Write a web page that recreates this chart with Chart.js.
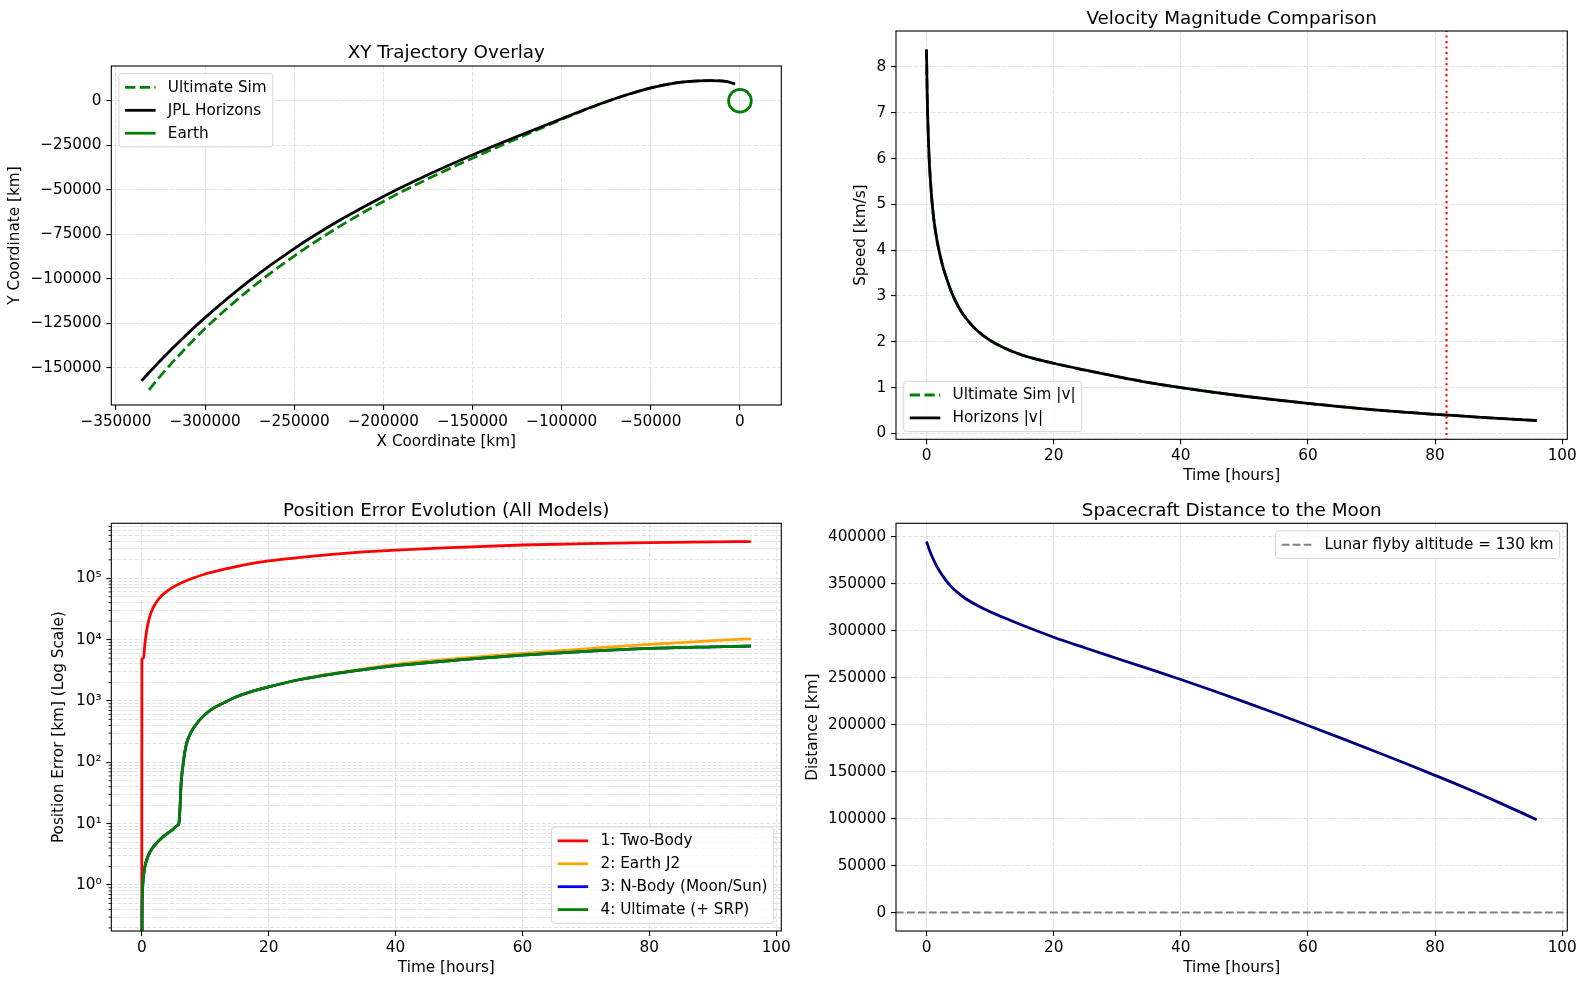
<!DOCTYPE html>
<html><head><meta charset="utf-8">
<script src="https://cdn.jsdelivr.net/npm/chart.js@4.4.1/dist/chart.umd.min.js"></script>
<style>
html,body{margin:0;padding:0;background:#fff;}
#wrap{position:relative;width:1586px;height:986px;background:#fff;}
canvas{position:absolute;left:0;top:0;}
</style></head><body>
<div id="wrap">
<canvas id="c1" width="1586" height="986"></canvas>
<canvas id="c2" width="1586" height="986"></canvas>
<canvas id="c3" width="1586" height="986"></canvas>
<canvas id="c4" width="1586" height="986"></canvas>
</div>
<script>
// ---------------- Panel 1: XY trajectory (km) ----------------
const jplX = [-335700, -325000, -312500, -300000, -275000, -250000, -225000, -200000, -175000, -150000, -125000, -100000, -87500, -75000, -62500, -50000, -40000, -30000, -16400, -8000, -2800];
const jplY = [-157400, -146000, -133500, -121900, -101100, -83100, -67500, -53800, -41600, -30500, -20150, -10100, -5200, -600, 3600, 7200, 9350, 10700, 11280, 10900, 9400];
const simX = [-331450, -325000, -312500, -300000, -275000, -250000, -225000, -200000, -175000, -150000, -125000, -100000, -87500, -75000, -62500, -50000, -40000, -30000, -16400, -8000, -2800];
const simY = [-162540, -154600, -140800, -128000, -106000, -87300, -70900, -56600, -43900, -32300, -21300, -10550, -5300, -600, 3600, 7200, 9350, 10700, 11280, 10900, 9400];
const earthX = [0];
const earthY = [0];
const earthRadiusKm = 6371;
const xyTicksX = [-350000, -300000, -250000, -200000, -150000, -100000, -50000, 0];
const xyTicksY = [-150000, -125000, -100000, -75000, -50000, -25000, 0];

// ---------------- Panel 2: speed (km/s) vs time (h) ----------------
const velT   = [0, 0.1, 0.2, 0.4, 0.6, 0.9, 1.2, 1.6, 2.0, 2.5, 3, 4, 5, 6, 7, 8, 10, 12, 15, 20, 25, 30, 35, 40, 45, 50, 55, 60, 65, 70, 75, 80, 85, 90, 96];
const velSim = [8.38, 7.45, 6.85, 6.05, 5.55, 5.0, 4.62, 4.25, 3.97, 3.68, 3.45, 3.06, 2.77, 2.55, 2.38, 2.24, 2.03, 1.88, 1.71, 1.53, 1.38, 1.24, 1.11, 1.0, 0.9, 0.81, 0.73, 0.655, 0.585, 0.52, 0.465, 0.415, 0.37, 0.325, 0.285];
const velHor = [8.38, 7.45, 6.85, 6.05, 5.55, 5.0, 4.62, 4.25, 3.97, 3.68, 3.45, 3.06, 2.77, 2.55, 2.38, 2.24, 2.03, 1.88, 1.71, 1.53, 1.38, 1.24, 1.11, 1.0, 0.9, 0.81, 0.73, 0.655, 0.585, 0.52, 0.465, 0.415, 0.37, 0.325, 0.28];
const markT = [81.8, 81.8];
const markV = [-1, 10];
const velTicksY = [0, 1, 2, 3, 4, 5, 6, 7, 8];
const timeTicks = [0, 20, 40, 60, 80, 100];

// ---------------- Panel 3: position error (km, log) ----------------
const errTimeTwoBody = [0, 0.02, 0.3, 0.45, 0.6, 0.8, 1.0, 1.25, 1.5, 2.0, 2.87, 4, 5, 6.55, 8, 10, 13, 16, 20, 25, 30, 35, 40, 50, 60, 70, 80, 90, 96];
const errTwoBody = [0.01, 4800, 5000, 7600, 10500, 14500, 18600, 23400, 28200, 36300, 49000, 61700, 72400, 87100, 100000, 117500, 141000, 164000, 192000, 219000, 245000, 269000, 289000, 320000, 349000, 367000, 381000, 392000, 396000];
const errTime     = [0, 0.05, 0.12, 0.25, 0.5, 0.8, 1.2, 1.6, 2.4, 3.2, 4, 4.8, 5.6, 5.85, 6.0, 6.2, 6.5, 6.8, 7.1, 7.7, 8.3, 9.5, 11, 13, 15, 17.5, 20, 25, 30, 35, 40, 50, 60, 70, 80, 90, 96];
const errJ2       = [0.01, 0.32, 0.8, 1.3, 2.0, 2.6, 3.3, 3.9, 4.9, 5.9, 6.9, 7.9, 9.3, 10, 16, 45, 90, 150, 210, 300, 380, 540, 730, 940, 1180, 1450, 1700, 2240, 2780, 3330, 3950, 4950, 5950, 7100, 8400, 9600, 10300];
const errNBody    = [0.01, 0.32, 0.8, 1.3, 2.0, 2.6, 3.3, 3.9, 4.9, 5.9, 6.9, 7.9, 9.3, 10, 16, 45, 90, 150, 210, 300, 380, 540, 730, 940, 1180, 1450, 1700, 2240, 2750, 3250, 3760, 4660, 5580, 6430, 7180, 7620, 7850];
const errUltimate = [0.01, 0.32, 0.8, 1.3, 2.0, 2.6, 3.3, 3.9, 4.9, 5.9, 6.9, 7.9, 9.3, 10, 16, 45, 90, 150, 210, 300, 380, 540, 730, 940, 1180, 1450, 1700, 2240, 2750, 3250, 3770, 4670, 5600, 6450, 7200, 7650, 7880];
const errDecades = [0.1, 1, 10, 100, 1000, 10000, 100000];

// ---------------- Panel 4: distance to Moon (km) ----------------
const distT    = [0, 0.5, 1, 1.6, 2.5, 3.2, 4, 5, 6, 8, 10, 12, 15, 20, 25, 30, 35, 40, 45, 50, 55, 60, 65, 70, 75, 80, 85, 90, 96];
const distMoon = [394800, 385000, 377000, 368500, 358800, 352200, 346200, 339900, 334700, 326700, 320000, 314300, 305900, 293000, 281500, 270350, 259250, 248000, 236250, 224200, 211850, 199100, 186200, 173050, 159650, 146000, 132000, 117250, 98850];
const flybyT = [-10, 110];
const flybyAlt = [130, 130];
const distTicksY = [0, 50000, 100000, 150000, 200000, 250000, 300000, 350000, 400000];

// ---------------- styling helpers ----------------
const FS = 15.28, TS = 18.33;
const GRID = '#e2e2e2';
Chart.defaults.font.family = '"DejaVu Sans", sans-serif';
Chart.defaults.color = '#000';

const pts = (xs, ys) => xs.map((x, i) => ({x, y: ys[i]}));
const fmt = v => (v < 0 ? '\u2212' + Math.abs(v) : String(v));
const SUP = {'-':'\u207B','0':'\u2070','1':'\u00B9','2':'\u00B2','3':'\u00B3','4':'\u2074','5':'\u2075','6':'\u2076','7':'\u2077','8':'\u2078','9':'\u2079'};
const isPow10 = v => Math.abs(Math.log10(v) - Math.round(Math.log10(v))) < 1e-9;
const logLabel = v => isPow10(v) ? '10' + String(Math.round(Math.log10(v))).split('').map(c => SUP[c]).join('') : '';

function scale(o) {
  const horiz = o.pos === 'bottom';
  return {
    type: o.type || 'linear', position: o.pos, min: o.min, max: o.max,
    afterBuildTicks: s => { s.ticks = o.ticks.map(v => ({value: v})); },
    afterFit: s => { if (horiz) s.height = o.size; else s.width = o.size; },
    grid: {color: GRID, lineWidth: 1.1, drawTicks: true, tickLength: 4.9,
           tickColor: o.tickColor || '#000', tickWidth: 1.1},
    border: {display: false, dash: [4.1, 1.8]},
    ticks: {autoSkip: false, maxRotation: 0, minRotation: 0, padding: horiz ? 3 : 4.9,
            color: '#000', font: {size: FS}, callback: v => (o.label || fmt)(v)},
    title: {display: true, text: o.title, color: '#000', font: {size: FS}, padding: {top: 0, bottom: 0}}
  };
}

const framePlugin = {
  id: 'frame',
  afterDatasetsDraw(chart) {
    const a = chart.chartArea, ctx = chart.ctx;
    ctx.save(); ctx.strokeStyle = '#000'; ctx.lineWidth = 1.1;
    ctx.strokeRect(a.left, a.top, a.right - a.left, a.bottom - a.top);
    ctx.restore();
  }
};

const minorTickPlugin = {
  id: 'minorTicks',
  afterDraw(chart, args, opts) {
    if (!opts || !opts.on) return;
    const s = chart.scales.y, a = chart.chartArea, ctx = chart.ctx;
    ctx.save(); ctx.strokeStyle = '#000'; ctx.lineWidth = 0.83;
    s.ticks.forEach(t => {
      if (isPow10(t.value)) return;
      const y = s.getPixelForValue(t.value);
      ctx.beginPath(); ctx.moveTo(a.left - 2.8, y); ctx.lineTo(a.left, y); ctx.stroke();
    });
    ctx.restore();
  }
};

const legendPlugin = {
  id: 'mplLegend',
  afterDraw(chart, args, opts) {
    if (!opts || !opts.loc) return;
    const ctx = chart.ctx, a = chart.chartArea;
    const items = chart.data.datasets.filter(d => d.label && d.inLegend !== false);
    ctx.save();
    ctx.font = FS + 'px "DejaVu Sans"';
    const pad = 0.4 * FS, hl = 2 * FS, htp = 0.8 * FS, ls = 0.5 * FS, bap = 0.5 * FS, rowH = FS;
    const tw = Math.max(...items.map(d => ctx.measureText(d.label).width));
    const w = 2 * pad + hl + htp + tw;
    const h = 2 * pad + items.length * rowH + (items.length - 1) * ls;
    const x = opts.loc.includes('left') ? a.left + bap : a.right - bap - w;
    const y = opts.loc.includes('upper') ? a.top + bap : a.bottom - bap - h;
    const r = 3;
    ctx.beginPath();
    ctx.moveTo(x + r, y); ctx.lineTo(x + w - r, y); ctx.quadraticCurveTo(x + w, y, x + w, y + r);
    ctx.lineTo(x + w, y + h - r); ctx.quadraticCurveTo(x + w, y + h, x + w - r, y + h);
    ctx.lineTo(x + r, y + h); ctx.quadraticCurveTo(x, y + h, x, y + h - r);
    ctx.lineTo(x, y + r); ctx.quadraticCurveTo(x, y, x + r, y); ctx.closePath();
    ctx.fillStyle = 'rgba(255,255,255,0.8)'; ctx.fill();
    ctx.strokeStyle = 'rgba(204,204,204,0.8)'; ctx.lineWidth = 1; ctx.stroke();
    items.forEach((d, i) => {
      const cy = y + pad + rowH / 2 + i * (rowH + ls);
      ctx.beginPath();
      ctx.setLineDash(d.borderDash || []);
      ctx.strokeStyle = d.borderColor; ctx.lineWidth = d.borderWidth; ctx.lineCap = 'butt';
      ctx.moveTo(x + pad, cy); ctx.lineTo(x + pad + hl, cy); ctx.stroke();
      ctx.setLineDash([]);
      ctx.fillStyle = '#000'; ctx.textBaseline = 'middle'; ctx.textAlign = 'left';
      ctx.fillText(d.label, x + pad + hl + htp, cy + 0.5);
    });
    ctx.restore();
  }
};

function line(label, xs, ys, color, extra) {
  return Object.assign({label, data: pts(xs, ys), showLine: true, borderColor: color, backgroundColor: color,
    borderWidth: 2.78, pointRadius: 0, pointHoverRadius: 0, clip: 0, cubicInterpolationMode: 'monotone'}, extra || {});
}

function makeChart(id, cfg) {
  const n = cfg.datasets.length;
  cfg.datasets.forEach((d, i) => { d.order = n - i; });  // later datasets drawn on top (matplotlib order)
  return new Chart(document.getElementById(id), {
    type: 'scatter',
    data: {datasets: cfg.datasets},
    options: {
      responsive: false, animation: false, devicePixelRatio: 1, events: [],
      layout: {padding: cfg.pad},
      scales: {x: cfg.x, y: cfg.y},
      plugins: {
        legend: {display: false}, tooltip: {enabled: false},
        title: {display: true, text: cfg.title, fullSize: false, color: '#000',
                font: {size: TS, weight: 'normal'}, padding: cfg.titlePad},
        mplLegend: {loc: cfg.legendLoc},
        minorTicks: {on: !!cfg.minor}
      }
    },
    plugins: [framePlugin, minorTickPlugin, legendPlugin]
  });
}

const DASH = [10.3, 4.4];

// Panel 1
makeChart('c1', {
  title: 'XY Trajectory Overlay',
  pad: {left: 5.8, right: 804.7, top: 42.2, bottom: 534.8},
  titlePad: {top: 0, bottom: 1.8},
  legendLoc: 'upper left',
  x: scale({pos: 'bottom', min: -352600, max: 23200, ticks: xyTicksX, size: 46.2, title: 'X Coordinate [km]'}),
  y: scale({pos: 'left', min: -171000, max: 19500, ticks: xyTicksY, size: 105.5, title: 'Y Coordinate [km]'}),
  datasets: [
    line('Ultimate Sim', simX, simY, '#008000', {borderDash: DASH}),
    line('JPL Horizons', jplX, jplY, '#000000'),
    {label: 'Earth', data: pts(earthX, earthY), showLine: false, borderColor: '#008000', borderWidth: 2.78,
     pointBorderColor: '#008000', pointBackgroundColor: 'rgba(0,0,0,0)', pointBorderWidth: 2.78, pointHoverRadius: 0,
     pointRadius: c => { const s = c.chart.scales.x; return s ? Math.abs(s.getPixelForValue(earthRadiusKm) - s.getPixelForValue(0)) : 0; }}
  ]
});

// Panel 2
makeChart('c2', {
  title: 'Velocity Magnitude Comparison',
  pad: {left: 852.2, right: 18.7, top: 7.8, bottom: 500.8},
  titlePad: {top: 0, bottom: 1.2},
  legendLoc: 'lower left',
  x: scale({pos: 'bottom', min: -4.8, max: 100.8, ticks: timeTicks, size: 45.9, title: 'Time [hours]'}),
  y: scale({pos: 'left', min: -0.13, max: 8.785, ticks: velTicksY, size: 43.8, title: 'Speed [km/s]'}),
  datasets: [
    line('Ultimate Sim |v|', velT, velSim, '#008000', {borderDash: DASH}),
    line('Horizons |v|', velT, velHor, '#000000'),
    line('', markT, markV, '#ff0000', {borderWidth: 2.08, borderDash: [2.08, 3.44], inLegend: false, cubicInterpolationMode: 'default'})
  ]
});

// Panel 3
const logTicks = [];
errDecades.forEach(d => { for (let m = 1; m <= 9; m++) { const v = m * d; if (v >= 0.178 && v <= 788000) logTicks.push(+v.toPrecision(6)); } });
makeChart('c3', {
  title: 'Position Error Evolution (All Models)',
  pad: {left: 49.8, right: 804.7, top: 500.3, bottom: 8.8},
  titlePad: {top: 0, bottom: 1.0},
  legendLoc: 'lower right',
  minor: true,
  x: scale({pos: 'bottom', min: -4.8, max: 100.8, ticks: timeTicks, size: 46.2, title: 'Time [hours]'}),
  y: scale({pos: 'left', type: 'logarithmic', min: 0.178, max: 788000, ticks: logTicks, size: 61.5,
            title: 'Position Error [km] (Log Scale)', label: logLabel,
            tickColor: c => (c.tick && isPow10(c.tick.value)) ? '#000' : 'rgba(0,0,0,0)'}),
  datasets: [
    line('1: Two-Body', errTimeTwoBody, errTwoBody, '#ff0000'),
    line('2: Earth J2', errTime, errJ2, '#ffa500'),
    line('3: N-Body (Moon/Sun)', errTime, errNBody, '#0000ff'),
    line('4: Ultimate (+ SRP)', errTime, errUltimate, '#008000')
  ]
});

// Panel 4
makeChart('c4', {
  title: 'Spacecraft Distance to the Moon',
  pad: {left: 803.7, right: 18.7, top: 500.3, bottom: 8.8},
  titlePad: {top: 0, bottom: 1.0},
  legendLoc: 'upper right',
  x: scale({pos: 'bottom', min: -4.8, max: 100.8, ticks: timeTicks, size: 46.2, title: 'Time [hours]'}),
  y: scale({pos: 'left', min: -19600, max: 414200, ticks: distTicksY, size: 92.3, title: 'Distance [km]'}),
  datasets: [
    line('', distT, distMoon, '#000080', {inLegend: false}),
    line('Lunar flyby altitude = 130 km', flybyT, flybyAlt, '#808080', {borderWidth: 2.08, borderDash: [7.7, 3.3], cubicInterpolationMode: 'default'})
  ]
});
</script>
</body></html>
